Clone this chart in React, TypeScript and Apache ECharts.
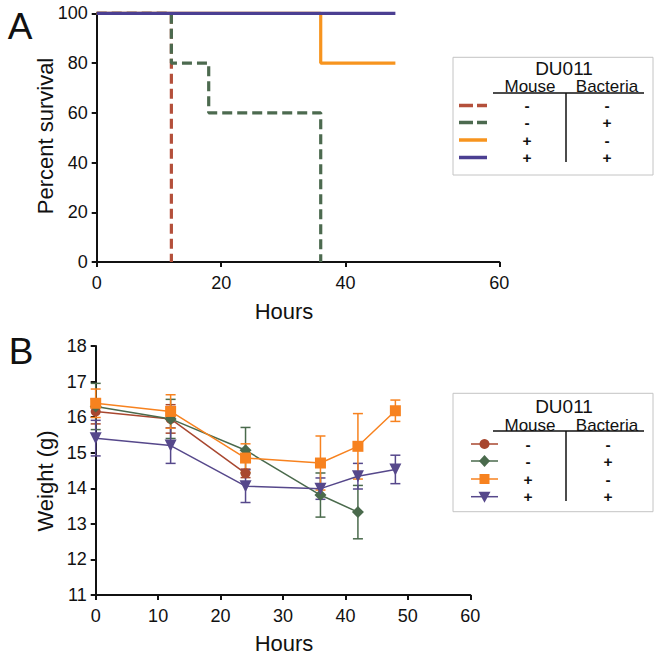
import React, { useEffect, useRef } from "react";
import * as echarts from "echarts";

// ---------- Panel A: survival (Kaplan-Meier steps) ----------
const A_RED = [[0, 100], [12, 0]];
const A_GREEN = [[0, 100], [12, 80], [18, 60], [36, 0]];
const A_ORANGE = [[0, 100], [36, 80], [48, 80]];
const A_BLUE = [[0, 100], [48, 100]];
const A_Y_TICKS = [0, 20, 40, 60, 80, 100];
const A_X_LABELS = ["0", "20", "40", "60"];
const A_X_TICKS = [0, 20, 40];
const A_X_MAX = 64.7; // last tick of the original axis (labelled 60) sits past 60

// ---------- Panel B: weight ----------
const B_RED_X = [0, 12, 24];
const B_RED_Y = [16.16, 15.95, 14.42];
const B_RED_ERR = [0.35, 0.4, 0.12];
const B_GREEN_X = [0, 12, 24, 36, 42];
const B_GREEN_Y = [16.3, 15.95, 15.07, 13.81, 13.33];
const B_GREEN_ERR = [0.65, 0.55, 0.64, 0.62, 0.75];
const B_ORANGE_X = [0, 12, 24, 36, 42, 48];
const B_ORANGE_Y = [16.39, 16.16, 14.85, 14.71, 15.18, 16.18];
const B_ORANGE_ERR = [0.4, 0.47, 0.4, 0.76, 0.92, 0.3];
const B_BLUE_X = [0, 12, 24, 36, 42, 48];
const B_BLUE_Y = [15.41, 15.2, 14.06, 13.99, 14.34, 14.53];
const B_BLUE_ERR = [0.5, 0.5, 0.46, 0.3, 0.36, 0.4];

const LEGEND_MOUSE = ["-", "-", "+", "+"];
const LEGEND_BACTERIA = ["-", "+", "-", "+"];

const FONT = "'Liberation Sans', Arial, Helvetica, sans-serif";

const A_COLORS = ["#b4503b", "#4c6a4f", "#f7941e", "#4b3f92"];
const B_COLORS = ["#a8472f", "#4a6a4c", "#f7821f", "#56488b"];

function pts(xs: number[], ys: number[]) {
  return xs.map((x, i) => [x, ys[i]]);
}
function errs(xs: number[], ys: number[], es: number[]) {
  return xs.map((x, i) => [x, ys[i] - es[i], ys[i] + es[i]]);
}

function errorSeries(data: number[][], color: string) {
  return {
    type: "custom",
    xAxisIndex: 1,
    yAxisIndex: 1,
    data,
    encode: { x: 0, y: [1, 2] },
    z: 1,
    renderItem: (params: any, api: any) => {
      const x = api.value(0);
      const lo = api.coord([x, api.value(1)]);
      const hi = api.coord([x, api.value(2)]);
      const hw = 5;
      const style = { stroke: color, lineWidth: 1.5, fill: "none" };
      return {
        type: "group",
        children: [
          { type: "line", shape: { x1: lo[0], y1: lo[1], x2: hi[0], y2: hi[1] }, style },
          { type: "line", shape: { x1: lo[0] - hw, y1: lo[1], x2: lo[0] + hw, y2: lo[1] }, style },
          { type: "line", shape: { x1: hi[0] - hw, y1: hi[1], x2: hi[0] + hw, y2: hi[1] }, style },
        ],
      };
    },
  };
}

function legend(
  top: number,
  duY: number,
  headY: number,
  lineY: number,
  rows: number[],
  vBottom: number,
  height: number,
  sample: (i: number, y: number) => any[],
  mouseX: number,
  bactX: number
) {
  const els: any[] = [];
  els.push({
    type: "rect",
    shape: { x: 453, y: top, width: 200, height },
    style: { fill: "#fff", stroke: "#c4c4c4", lineWidth: 1 },
  });
  els.push({
    type: "text",
    x: 564,
    y: duY,
    style: { text: "DU011", font: `19px ${FONT}`, fill: "#111", align: "center", verticalAlign: "middle" },
  });
  els.push({
    type: "text",
    x: 530,
    y: headY,
    style: { text: "Mouse", font: `17px ${FONT}`, fill: "#111", align: "center", verticalAlign: "middle" },
  });
  els.push({
    type: "text",
    x: 607,
    y: headY,
    style: { text: "Bacteria", font: `17px ${FONT}`, fill: "#111", align: "center", verticalAlign: "middle" },
  });
  els.push({
    type: "line",
    shape: { x1: 493, y1: lineY, x2: 644, y2: lineY },
    style: { stroke: "#111", lineWidth: 1.5 },
  });
  els.push({
    type: "line",
    shape: { x1: 566, y1: lineY, x2: 566, y2: vBottom },
    style: { stroke: "#111", lineWidth: 1.5 },
  });
  rows.forEach((y, i) => {
    els.push(...sample(i, y));
    els.push({
      type: "text",
      x: mouseX,
      y: y,
      style: { text: LEGEND_MOUSE[i], font: `bold 15.5px ${FONT}`, fill: "#111", align: "center", verticalAlign: "middle" },
    });
    els.push({
      type: "text",
      x: bactX,
      y: y,
      style: { text: LEGEND_BACTERIA[i], font: `bold 15.5px ${FONT}`, fill: "#111", align: "center", verticalAlign: "middle" },
    });
  });
  return els;
}

function sampleA(i: number, y: number) {
  return [
    {
      type: "line",
      shape: { x1: 459, y1: y, x2: 487, y2: y },
      style: { stroke: A_COLORS[i], lineWidth: 3.5, lineDash: i < 2 ? [14, 4] : null },
    },
  ];
}

function sampleB(i: number, y: number) {
  const c = B_COLORS[i];
  const cx = 484.5;
  const out: any[] = [
    { type: "line", shape: { x1: 471, y1: y, x2: 498, y2: y }, style: { stroke: c, lineWidth: 1.5 } },
  ];
  if (i === 0) out.push({ type: "circle", shape: { cx, cy: y, r: 5 }, style: { fill: c } });
  if (i === 1)
    out.push({
      type: "polygon",
      shape: { points: [[cx, y - 6], [cx + 5.5, y], [cx, y + 6], [cx - 5.5, y]] },
      style: { fill: c },
    });
  if (i === 2) out.push({ type: "rect", shape: { x: cx - 5, y: y - 5, width: 10, height: 10 }, style: { fill: c } });
  if (i === 3)
    out.push({
      type: "polygon",
      shape: { points: [[cx - 6, y - 5], [cx + 6, y - 5], [cx, y + 6]] },
      style: { fill: c },
    });
  return out;
}

export default function App() {
  const ref = useRef<HTMLDivElement>(null);
  useEffect(() => {
    if (!ref.current) return;
    const chart = echarts.init(ref.current, null, { renderer: "svg" });
    const axisLine = { show: true, lineStyle: { color: "#111", width: 2 } };
    const axisTick = { show: true, inside: false, length: 5, lineStyle: { color: "#111", width: 2 } };
    const labelStyle = { color: "#111", fontSize: 18, fontFamily: FONT };

    const aStep = (data: number[][], color: string, dashed: boolean, z: number) => ({
      type: "line",
      xAxisIndex: 0,
      yAxisIndex: 0,
      data,
      step: "end",
      showSymbol: false,
      symbol: "none",
      clip: false,
      z,
      lineStyle: { color, width: 3.2, type: dashed ? [10, 5] : "solid" },
    });

    const bLine = (xs: number[], ys: number[], color: string, symbol: string, size: number, z: number, rotate = 0) => ({
      type: "line",
      xAxisIndex: 1,
      yAxisIndex: 1,
      data: pts(xs, ys),
      symbol,
      symbolSize: size,
      symbolRotate: rotate,
      showSymbol: true,
      clip: false,
      z,
      itemStyle: { color },
      lineStyle: { color, width: 1.5 },
    });

    const titleText = (text: string, x: number, y: number, rot = 0) => ({
      type: "text",
      x,
      y,
      rotation: rot,
      style: { text, font: `22px ${FONT}`, fill: "#111", align: "center", verticalAlign: "middle" },
    });

    chart.setOption({
      animation: false,
      backgroundColor: "#fff",
      grid: [
        { left: 96.7, right: 162.7, top: 13.3, bottom: 395, containLabel: false },
        { left: 95.7, right: 191.7, top: 346, bottom: 62, containLabel: false },
      ],
      xAxis: [
        {
          gridIndex: 0,
          type: "value",
          min: 0,
          max: A_X_MAX,
          axisLine,
          axisTick: { ...axisTick, customValues: [...A_X_TICKS, A_X_MAX] },
          splitLine: { show: false },
          axisLabel: {
            ...labelStyle,
            margin: 12,
            customValues: [...A_X_TICKS, A_X_MAX],
            formatter: (v: number) => {
              const idx = v === A_X_MAX ? A_X_LABELS.length - 1 : A_X_TICKS.indexOf(v);
              return A_X_LABELS[idx] ?? String(v);
            },
          },
        },
        {
          gridIndex: 1,
          type: "value",
          min: 0,
          max: 60,
          interval: 10,
          axisLine,
          axisTick,
          splitLine: { show: false },
          axisLabel: { ...labelStyle, margin: 12 },
        },
      ],
      yAxis: [
        {
          gridIndex: 0,
          type: "value",
          min: A_Y_TICKS[0],
          max: A_Y_TICKS[A_Y_TICKS.length - 1],
          interval: 20,
          axisLine,
          axisTick,
          splitLine: { show: false },
          axisLabel: { ...labelStyle, margin: 9 },
        },
        {
          gridIndex: 1,
          type: "value",
          min: 11,
          max: 18,
          interval: 1,
          axisLine,
          axisTick,
          splitLine: { show: false },
          axisLabel: { ...labelStyle, margin: 9 },
        },
      ],
      series: [
        aStep(A_RED, A_COLORS[0], true, 2),
        aStep(A_GREEN, A_COLORS[1], true, 3),
        aStep(A_ORANGE, A_COLORS[2], false, 4),
        aStep(A_BLUE, A_COLORS[3], false, 5),
        errorSeries(errs(B_RED_X, B_RED_Y, B_RED_ERR), B_COLORS[0]),
        errorSeries(errs(B_GREEN_X, B_GREEN_Y, B_GREEN_ERR), B_COLORS[1]),
        errorSeries(errs(B_BLUE_X, B_BLUE_Y, B_BLUE_ERR), B_COLORS[3]),
        errorSeries(errs(B_ORANGE_X, B_ORANGE_Y, B_ORANGE_ERR), B_COLORS[2]),
        bLine(B_RED_X, B_RED_Y, B_COLORS[0], "circle", 10, 2),
        bLine(B_GREEN_X, B_GREEN_Y, B_COLORS[1], "diamond", 12, 3),
        bLine(B_BLUE_X, B_BLUE_Y, B_COLORS[3], "triangle", 12, 4, 180),
        bLine(B_ORANGE_X, B_ORANGE_Y, B_COLORS[2], "rect", 11, 5),
      ],
      graphic: [
        { type: "text", x: 20, y: 26, style: { text: "A", font: `37px ${FONT}`, fill: "#111", align: "center", verticalAlign: "middle" } },
        { type: "text", x: 21, y: 351, style: { text: "B", font: `37px ${FONT}`, fill: "#111", align: "center", verticalAlign: "middle" } },
        titleText("Percent survival", 45, 136, Math.PI / 2),
        titleText("Hours", 284, 311.5),
        titleText("Weight (g)", 45, 481, Math.PI / 2),
        titleText("Hours", 284, 643),
        ...legend(57.3, 68.5, 86.5, 93, [105.5, 122.5, 140, 157.5], 162, 117.7, sampleA, 527, 607),
        ...legend(393.3, 406, 425, 431, [444, 461, 479, 496.7], 501, 118.4, sampleB, 528, 608),
      ],
    });
    return () => chart.dispose();
  }, []);
  return (
    <div
      ref={ref}
      style={{ position: "absolute", left: 0, top: 0, width: 662, height: 657 }}
    />
  );
}
